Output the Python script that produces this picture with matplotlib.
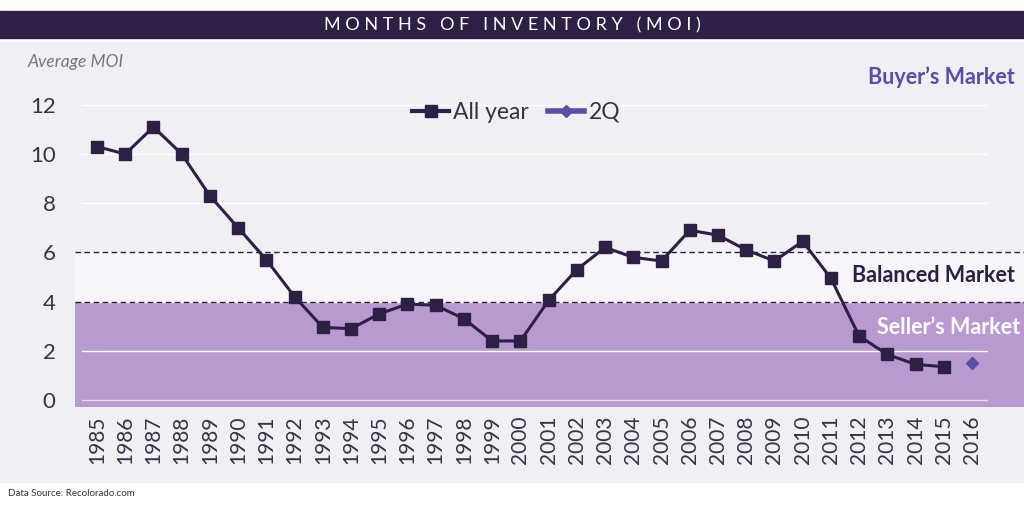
import matplotlib.pyplot as plt
from matplotlib.patches import Rectangle
from matplotlib.lines import Line2D

plt.rcParams['font.family'] = ['Lato', 'DejaVu Sans']

# data
years = [str(y) for y in range(1985, 2017)]
all_year = [10.3, 10.0, 11.1, 10.0, 8.3, 7.0, 5.7, 4.2, 2.95, 2.9, 3.5, 3.9, 3.85,
            3.3, 2.4, 2.4, 4.05, 5.3, 6.2, 5.8, 5.65, 6.9, 6.7, 6.1, 5.65, 6.45, 4.95,
            2.6, 1.85, 1.45, 1.35]
q2_year = ['2016']
q2_value = [1.5]
yticks = [0, 2, 4, 6, 8, 10, 12]

dark = '#2E1F45'
seller = '#B89AD1'
W, H = 1024, 507

fig = plt.figure(figsize=(10.24, 5.07), dpi=100)
fig.patch.set_facecolor('white')

# background panel and title banner (figure pixel coords)
fig.patches.append(Rectangle((0, (H - 482) / H), 1, (482 - 42) / H,
                             transform=fig.transFigure, color='#F0EFF3', zorder=0))
fig.patches.append(Rectangle((0, (H - 38) / H), 1, 27 / H,
                             transform=fig.transFigure, color=dark, zorder=1))
fig.text(0.5, (H - 25) / H, 'M O N T H S   O F   I N V E N T O R Y   ( M O I )',
         color='white', fontsize=13, ha='center', va='center')

ax = fig.add_axes([75 / W, (H - 407) / H, (W - 75) / W, (407 - 62) / H])
ax.set_zorder(3)
ax.set_facecolor('none')
n = len(years)
x = list(range(n))
step = 28.23
ax.set_xlim(-22 / step, n - 1 + 52 / step)
ax.set_ylim(-0.285, 13.74)

# market bands
ax.axhspan(-0.285, 4, color=seller, zorder=1, lw=0)
ax.axhspan(4, 6, color='#F7F5F9', zorder=1, lw=0)
for yv in yticks[1:]:
    ax.plot([-15 / step, n - 1 + 15 / step], [yv, yv], color='white', lw=1, zorder=2)
ax.plot([-15 / step, n - 1 + 15 / step], [0, 0], color='#E6DDEE', lw=1, zorder=2)
ax.axhline(6, color=dark, ls='--', lw=1, dashes=(4, 2.5), zorder=3)
ax.axhline(4, color=dark, ls='--', lw=1, dashes=(4, 2.5), zorder=3)

ax.plot(x[:len(all_year)], all_year, color=dark, lw=2.2, marker='s', markersize=9,
        zorder=5)
ax.plot([years.index(y) for y in q2_year], q2_value, color='#5A4FA8', lw=0,
        marker='D', markersize=6.5, zorder=5)

ax.set_xticks(x)
ax.set_xticklabels(years, rotation=90, fontsize=15, color='#3A3145')
ax.set_yticks(yticks)
ax.set_yticklabels([str(v) for v in yticks], fontsize=16, color='#3A3145')
ax.tick_params(length=0, pad=6)
ax.tick_params(axis='y', pad=14)
for s in ax.spines.values():
    s.set_visible(False)

handles = [Line2D([], [], color=dark, lw=3, marker='s', markersize=9),
           Line2D([], [], color='#5A4FA8', lw=4, marker='D', markersize=6)]
ax.legend(handles, ['All year', '2Q'], loc='upper center', bbox_to_anchor=(0.465, 0.945),
          ncol=2, frameon=False, fontsize=16.5, handlelength=1.6, handletextpad=0.2,
          columnspacing=0.8, labelcolor='#3A3145')

fig.text(1015 / W, (H - 77) / H, 'Buyer\u2019s Market', color='#5A4FA8',
         fontsize=15.5, fontweight='bold', ha='right', va='center')
fig.text(1015 / W, (H - 276) / H, 'Balanced Market', color=dark,
         fontsize=15.5, fontweight='bold', ha='right', va='center', zorder=5)
fig.text(1020 / W, (H - 327) / H, 'Seller\u2019s Market', color='white',
         fontsize=15.5, fontweight='bold', ha='right', va='center', zorder=5)
fig.text(28 / W, (H - 62) / H, 'Average MOI', color='#7A7480',
         fontsize=12.5, style='italic', ha='left', va='center')
fig.text(8 / W, (H - 494) / H, 'Data Source: Recolorado.com', color='#333333',
         fontsize=7, ha='left', va='center')

fig.savefig('out.png', dpi=100, facecolor=fig.get_facecolor())
